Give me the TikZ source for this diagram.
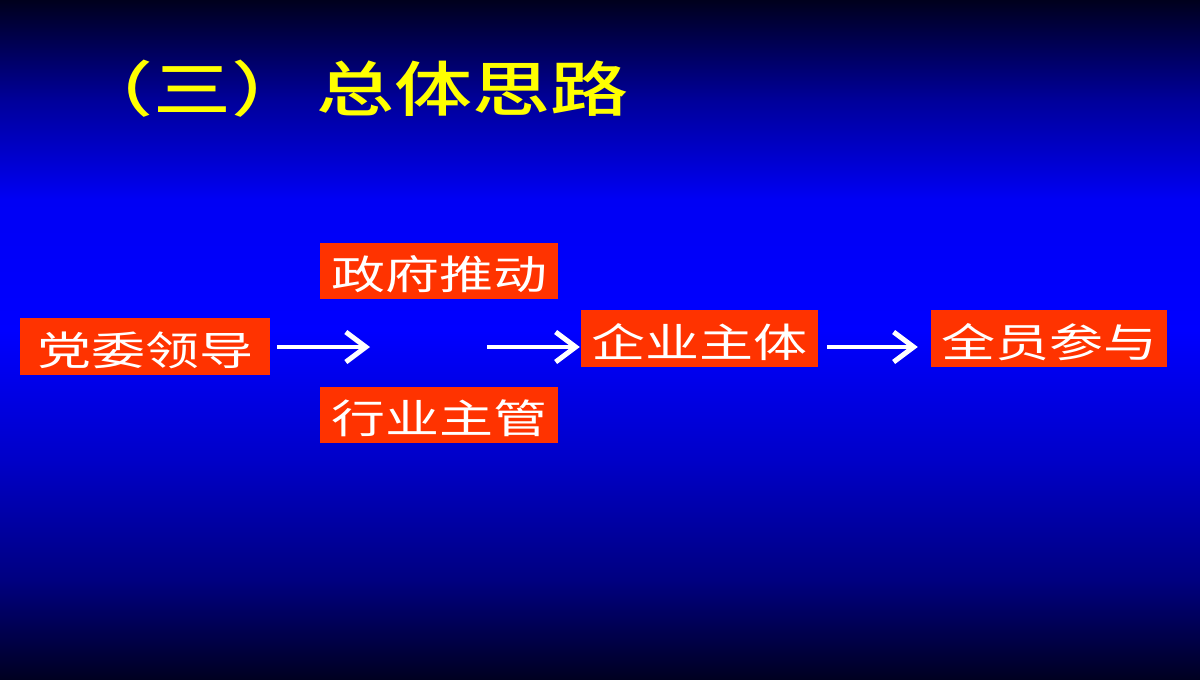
\documentclass[tikz,border=0pt]{standalone}
\usepackage{fontspec}
\usetikzlibrary{arrows.meta}
\newfontfamily\boxfont[FakeStretch=1.35]{Noto Sans CJK SC}
\newfontfamily\titlefont[FakeStretch=1.3]{Noto Sans CJK SC Medium}
\newcommand\lowtxt[1]{\raisebox{-7pt}{#1}\vphantom{#1}}
\definecolor{boxred}{HTML}{FF3300}
\definecolor{ttl}{HTML}{FFFF00}
\definecolor{g0}{HTML}{00001C}
\definecolor{g1}{HTML}{00009A}
\definecolor{g2}{HTML}{0000F5}
\definecolor{g3}{HTML}{0000FF}
\definecolor{g4}{HTML}{0000C8}
\definecolor{g5}{HTML}{000080}
\definecolor{g6}{HTML}{000020}
\tikzset{
  stepbox/.style={fill=boxred, text=white, inner sep=0pt,
    font=\boxfont\fontsize{40}{40}\selectfont},
  ttltext/.style={text=ttl, inner sep=0pt,
    font=\titlefont\fontsize{60}{60}\selectfont},
  arr/.style={draw=white, line width=4pt, -{Straight Barb[length=20pt,width=30pt,line width=5pt]}}
}
\begin{document}
\begin{tikzpicture}[x=1pt,y=-1pt]
\useasboundingbox (0,0) rectangle (1200,680);
% background
\shade[top color=g0, bottom color=g1] (0,-0.5) rectangle (1200,100.5);
\shade[top color=g1, bottom color=g2] (0,100) rectangle (1200,200.5);
\shade[top color=g2, bottom color=g3] (0,200) rectangle (1200,330.5);
\shade[top color=g3, bottom color=g4] (0,330) rectangle (1200,460.5);
\shade[top color=g4, bottom color=g5] (0,460) rectangle (1200,580.5);
\shade[top color=g5, bottom color=g6] (0,580) rectangle (1200,680.5);
% title
\node[ttltext, anchor=west] (t1) at (75,89) {（三）};
\node[ttltext] (t2) at (472,89) {总体思路};
% boxes
\node[stepbox, minimum width=250pt, minimum height=57pt] (A) at (145,346.5) {\lowtxt{党委领导}};
\node[stepbox, minimum width=238pt, minimum height=56pt] (B) at (439,271) {\lowtxt{政府推动}};
\node[stepbox, minimum width=238pt, minimum height=56pt] (C) at (439,415) {\lowtxt{行业主管}};
\node[stepbox, minimum width=237pt, minimum height=57pt] (D) at (699.5,338.5) {\lowtxt{企业主体}};
\node[stepbox, minimum width=236pt, minimum height=57pt] (E) at (1049,338.5) {\lowtxt{全员参与}};
% arrows
\coordinate (m1) at (370,347);
\coordinate (m2) at (487,347);
\draw[arr, shorten <=7pt] (A.east |- m1) -- (m1);
\draw[arr, shorten >=1pt] (m2) -- (D.west |- m2);
\draw[arr, shorten <=9pt, shorten >=13pt] (D.east |- m1) -- (E.west |- m1);
\end{tikzpicture}
\end{document}
